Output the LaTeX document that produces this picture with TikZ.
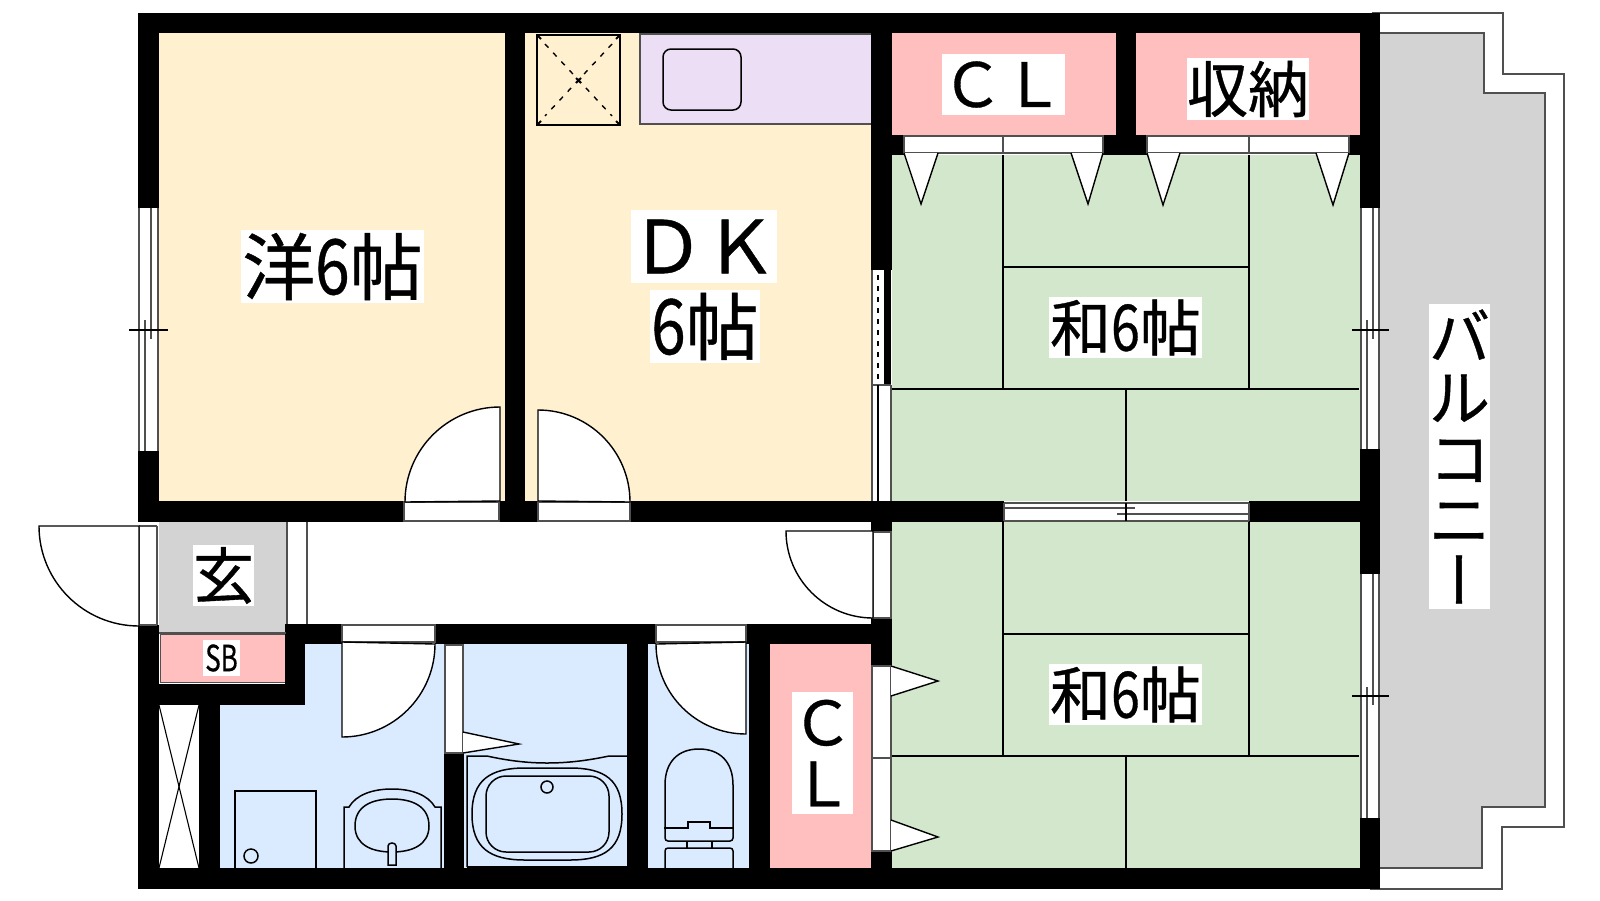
\documentclass[tikz,border=0pt]{standalone}
\usepackage{fontspec}
\usepackage{graphicx}
\newfontfamily\jp[FakeBold=0.6]{Noto Sans CJK JP}
\newfontfamily\jpv[RawFeature=+vert,FakeBold=0.6]{Noto Sans CJK JP}
\definecolor{cream}{HTML}{FFF0D0}
\definecolor{tatami}{HTML}{D2E7CB}
\definecolor{bluer}{HTML}{DBEBFF}
\definecolor{pinkr}{HTML}{FFBFBF}
\definecolor{grayr}{HTML}{D3D3D3}
\definecolor{purpler}{HTML}{ECDFF5}
\definecolor{frameline}{HTML}{505050}
\newcommand{\six}{\scalebox{0.85}[1.05]{6}}
\tikzset{
  wall/.style={fill=black,draw=none},
  thinline/.style={draw=black,line width=0.55pt},
  frameln/.style={draw=frameline,line width=0.6pt},
  fixture/.style={draw=black,line width=0.75pt},
  leaf/.style={draw=black,line width=0.7pt,fill=white},
  whitefill/.style={fill=white,draw=none},
  tag/.style={fill=white,inner sep=0pt,align=center,font=\jp},
  tagm/.style={tag,font=\jp\fontsize{30.5}{30.5}\selectfont},
  tagl/.style={tag,font=\jp\fontsize{36.5}{36.5}\selectfont}
}
\begin{document}
\begin{tikzpicture}[x=0.5pt,y=-0.5pt]
\useasboundingbox (0,0) rectangle (1600,900);
\fill[white] (0,0) rectangle (1600,900);
% balcony
\filldraw[fill=grayr,frameln] (1380,33)--(1484,33)--(1484,93)--(1545,93)--(1545,807)--(1482,807)--(1482,868)--(1380,868);
\draw[frameln] (1372,13)--(1503,13)--(1503,74)--(1564,74)--(1564,827)--(1502,827)--(1502,889)--(1370,889);
% room fills
\fill[cream] (159,33) rectangle (505,501);
\fill[cream] (525,33) rectangle (871,501);
\fill[tatami] (892,155) rectangle (1360,501);
\fill[tatami] (892,522) rectangle (1360,868);
\fill[pinkr] (892,33) rectangle (1116,135);
\fill[pinkr] (1136,33) rectangle (1360,135);
\fill[grayr] (159,522) rectangle (286,633);
\fill[pinkr] (160,634) rectangle (285,683);
\draw[frameln,line width=0.5pt] (160,634) rectangle (285,682);
\fill[bluer] (305,644)--(444,644)--(444,868)--(220,868)--(220,705)--(305,705)--cycle;
\fill[bluer] (444,644) rectangle (627,868);
\fill[bluer] (648,644) rectangle (749,868);
\fill[pinkr] (770,644) rectangle (871,868);
% kitchen
\filldraw[fill=purpler,frameln] (871,34)--(640,34)--(640,124)--(871,124);
\draw[fixture] (663,49) [rounded corners=4pt] rectangle (741,110);
\draw[thinline,line width=0.8pt] (537,35) rectangle (620,125);
\draw[thinline,line width=0.7pt,dash pattern=on 2.5pt off 3.5pt] (545,44)--(612,116);
\draw[thinline,line width=0.7pt,dash pattern=on 2.5pt off 3.5pt] (612,44)--(545,116);
\draw[thinline,line width=0.9pt] (537,35)--(541,39) (620,35)--(616,39) (537,125)--(541,121) (620,125)--(616,121);
\draw[thinline,line width=0.9pt] (576,78)--(581,83) (581,78)--(576,83);
% tatami lines upper
\draw[thinline] (1003,155)--(1003,389);
\draw[thinline] (1249,155)--(1249,389);
\draw[thinline] (1003,267)--(1249,267);
\draw[thinline] (892,389)--(1359,389);
\draw[thinline] (1126,389)--(1126,501);
% tatami lines lower
\draw[thinline] (1003,522)--(1003,756);
\draw[thinline] (1249,522)--(1249,756);
\draw[thinline] (1003,634)--(1249,634);
\draw[thinline] (892,756)--(1359,756);
\draw[thinline] (1126,756)--(1126,868);
% walls
\fill[wall] (138,13) rectangle (1380,33);
\fill[wall] (138,868) rectangle (1380,889);
\fill[wall] (138,13) rectangle (159,208);
\fill[wall] (138,451) rectangle (159,522);
\fill[wall] (138,625) rectangle (159,889);
\fill[wall] (1360,13) rectangle (1380,208);
\fill[wall] (1360,449) rectangle (1380,574);
\fill[wall] (1360,818) rectangle (1380,889);
\fill[wall] (138,501) rectangle (404,522);
\fill[wall] (499,501) rectangle (538,522);
\fill[wall] (630,501) rectangle (1004,522);
\fill[wall] (1249,501) rectangle (1380,522);
\fill[wall] (505,33) rectangle (525,501);
\fill[wall] (871,13) rectangle (892,270);
\fill[wall] (871,501) rectangle (892,532);
\fill[wall] (871,618) rectangle (892,666);
\fill[wall] (871,851) rectangle (892,889);
\fill[wall] (871,135) rectangle (904,155);
\fill[wall] (1103,135) rectangle (1147,155);
\fill[wall] (1349,135) rectangle (1380,155);
\fill[wall] (1116,13) rectangle (1136,155);
\fill[wall] (285,624) rectangle (342,644);
\fill[wall] (435,624) rectangle (656,644);
\fill[wall] (746,624) rectangle (892,644);
\fill[wall] (285,633) rectangle (305,705);
\fill[wall] (138,684) rectangle (305,705);
\fill[wall] (444,753) rectangle (464,868);
\fill[wall] (627,644) rectangle (648,868);
\fill[wall] (749,644) rectangle (770,868);
\fill[wall] (199,705) rectangle (220,868);
% closet with cross
\fill[white] (159,705) rectangle (199,868);
\draw[thinline] (159,705)--(199,868);
\draw[thinline] (199,705)--(159,868);
% closet doors top
\fill[whitefill] (904,135) rectangle (1103,155);
\fill[whitefill] (1147,135) rectangle (1349,155);
\draw[frameln] (904,136) rectangle (1103,153);
\draw[frameln] (1147,136) rectangle (1349,153);
\draw[frameln] (1003,136)--(1003,153);
\draw[frameln] (1249,136)--(1249,153);
\filldraw[leaf] (904,153)--(921,204)--(938,153);
\filldraw[leaf] (1071,153)--(1088,204)--(1103,153);
\filldraw[leaf] (1147,153)--(1163,205)--(1180,153);
\filldraw[leaf] (1316,153)--(1333,205)--(1349,153);
% left window
\fill[whitefill] (139,208) rectangle (158,451);
\draw[frameln] (139,208)--(139,451);
\draw[frameln] (158,208)--(158,451);
\draw[frameln] (151,208)--(151,339);
\draw[frameln] (145,320)--(145,451);
\draw[thinline] (129,330)--(168,330);
% right window upper
\fill[whitefill] (1361,208) rectangle (1379,449);
\draw[frameln] (1361,208)--(1361,449);
\draw[frameln] (1379,208)--(1379,449);
\draw[frameln] (1373,208)--(1373,339);
\draw[frameln] (1367,320)--(1367,449);
\draw[thinline] (1352,330)--(1389,330);
% right window lower
\fill[whitefill] (1361,574) rectangle (1379,818);
\draw[frameln] (1361,574)--(1361,818);
\draw[frameln] (1379,574)--(1379,818);
\draw[frameln] (1373,574)--(1373,705);
\draw[frameln] (1367,687)--(1367,818);
\draw[thinline] (1352,696)--(1389,696);
% middle sliding door
\fill[whitefill] (1004,501) rectangle (1249,522);
\draw[frameln] (1004,503)--(1249,503);
\draw[frameln] (1004,521)--(1249,521);
\draw[frameln] (1004,508)--(1135,508);
\draw[frameln] (1117,514)--(1249,514);
\draw[frameln] (1004,503)--(1004,521);
\draw[frameln] (1249,503)--(1249,521);
\draw[thinline] (1126,503)--(1126,521);
% DK sliding door
\fill[whitefill] (872,270) rectangle (891,501);
\fill[wall] (884,270) rectangle (891,385);
\draw[frameln] (872,270)--(872,501);
\draw[frameln] (891,385)--(891,501);
\draw[frameln] (872,385)--(891,385);
\draw[thinline] (878,385)--(878,501);
\draw[thinline,dash pattern=on 2.5pt off 3pt] (878,275)--(878,380);
% doors
\fill[whitefill] (404,501) rectangle (499,522);
\draw[frameln] (404,502) rectangle (499,521);
\filldraw[leaf] (500,501)--(500,407) arc[start angle=-90,end angle=-180,radius=95]--cycle;
\fill[whitefill] (538,501) rectangle (630,522);
\draw[frameln] (538,502) rectangle (630,521);
\filldraw[leaf] (538,501)--(538,410) arc[start angle=-90,end angle=0,radius=92]--cycle;
% entrance
\fill[whitefill] (139,526) rectangle (157,625);
\draw[frameln] (139,526)--(139,625);
\draw[frameln] (157,526)--(157,625);
\draw[frameln] (139,526)--(157,526);
\draw[frameln] (139,625)--(157,625);
\filldraw[leaf] (139,526)--(39,526) arc[start angle=180,end angle=90,radius=100]--cycle;
\draw[frameln] (287,522)--(287,624);
\draw[frameln] (307,522)--(307,624);
\draw[frameln] (159,633)--(286,633);
% wash door
\fill[whitefill] (342,624) rectangle (435,644);
\draw[frameln] (342,625) rectangle (435,642);
\filldraw[leaf] (342,642)--(342,737) arc[start angle=90,end angle=0,radius=93]--cycle;
% wash-bath slider
\fill[whitefill] (445,645) rectangle (463,753);
\draw[frameln] (445,645) rectangle (463,753);
\filldraw[leaf] (463,732)--(519,744)--(463,753);
% toilet door
\fill[whitefill] (656,624) rectangle (746,644);
\draw[frameln] (656,625) rectangle (746,642);
\filldraw[leaf] (746,642)--(746,734) arc[start angle=90,end angle=180,radius=90]--cycle;
% corridor door
\fill[whitefill] (873,532) rectangle (891,618);
\draw[frameln] (873,532) rectangle (891,618);
\filldraw[leaf] (873,531)--(786,531) arc[start angle=180,end angle=90,radius=87]--cycle;
% closet sliders
\fill[whitefill] (872,666) rectangle (891,851);
\draw[frameln] (872,666) rectangle (891,851);
\draw[frameln] (872,758)--(891,758);
\filldraw[leaf] (891,666)--(938,681)--(891,696);
\filldraw[leaf] (891,820)--(938,837)--(891,851);
% wash fittings
\draw[fixture] (235,868)--(235,791)--(316,791)--(316,868);
\draw[fixture] (251,856) circle[radius=7];
\draw[fixture] (344,868)--(344,807)--(349,807) .. controls (356,795) and (372,789) .. (392,789) .. controls (412,789) and (428,795) .. (435,807)--(441,807)--(441,868);
\draw[fixture] (355,826) .. controls (355,806) and (372,799) .. (392,799) .. controls (412,799) and (429,806) .. (429,826) .. controls (429,845) and (412,852) .. (392,852) .. controls (372,852) and (355,845) .. (355,826) -- cycle;
\filldraw[fixture,fill=bluer] (388,865)--(388,846) .. controls (388,842) and (396,842) .. (396,846)--(396,865)--cycle;
% bath
\draw[fixture] (467,867)--(467,756)--(487,756) .. controls (505,760) and (525,763) .. (547,763) .. controls (570,763) and (590,760) .. (609,756)--(627,756);
\draw[fixture] (467,867)--(627,867);
\draw[fixture] (472,814) .. controls (472,780) and (490,768) .. (525,768) -- (570,768) .. controls (605,768) and (622,780) .. (622,814) .. controls (622,848) and (605,860) .. (570,860) -- (525,860) .. controls (490,860) and (472,848) .. (472,814) -- cycle;
\draw[fixture,rounded corners=10pt] (486,776) rectangle (609,852);
\draw[fixture] (547,787) circle[radius=6];
% toilet
\draw[fixture] (665,828)--(665,785) .. controls (665,762) and (678,749) .. (699,749) .. controls (720,749) and (733,762) .. (733,785)--(733,828);
\draw[fixture] (664,828)--(688,828)--(688,822)--(710,822)--(710,828)--(734,828);
\draw[fixture,rounded corners=1.5pt] (665,828)--(665,841)--(733,841)--(733,828);
\draw[fixture] (687,841)--(687,848);
\draw[fixture] (712,841)--(712,848);
\draw[fixture,rounded corners=1.5pt] (665,868)--(665,848)--(733,848)--(733,868);
% labels
\node[tagl,minimum width=91.5pt,minimum height=36.5pt] (rooma) at (332.5,266.5) {洋\six 帖};
\node[tagl,minimum width=73pt,minimum height=36.5pt] (dk) at (704,246.5) {ＤＫ};
\node[tagl,minimum width=55pt,minimum height=36.5pt] (dksix) at (705,326.5) {\six 帖};
\node[tagm,minimum width=61.5pt,minimum height=30.5pt] (cltop) at (1003,84.5) {ＣＬ};
\node[tagm,minimum width=61pt,minimum height=31pt] (storage) at (1248,89) {収納};
\node[tagm,minimum width=76.5pt,minimum height=30.5pt] (roomb) at (1125.5,327.5) {和\six 帖};
\node[tagm,minimum width=76.5pt,minimum height=30.5pt] (roomc) at (1125.5,694.5) {和\six 帖};
\node[tagm,minimum width=30.5pt,minimum height=30.5pt] (gen) at (223.5,575.5) {玄};
\node[tag,minimum width=18.5pt,minimum height=18pt,font=\jp\fontsize{18}{18}\selectfont] (sb) at (221.5,658) {\scalebox{0.72}[1]{SB}};
\node[tagm,minimum width=30.5pt,minimum height=61pt] (clside) at (822.5,753) {Ｃ\\Ｌ};
\node[tagm,minimum width=30.5pt,minimum height=152.5pt] (balc) at (1459.5,456.5) {バ\\ル\\コ\\ニ\\{\jpv ー}};
\end{tikzpicture}
\end{document}
